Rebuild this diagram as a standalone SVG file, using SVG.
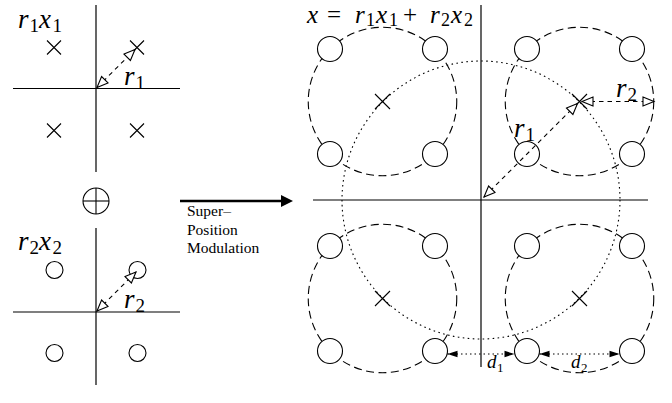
<svg xmlns="http://www.w3.org/2000/svg" width="672" height="403" viewBox="0 0 672 403">
<style>
.ax{stroke:#000;stroke-width:1.2;fill:none}
.cr{stroke:#000;stroke-width:1.1;fill:none}
.sc{stroke:#000;stroke-width:1.1;fill:#fff}
.grp{stroke:#000;stroke-width:1.1;fill:none;stroke-dasharray:8 4.5}
.dot{stroke:#000;stroke-width:1.1;fill:none;stroke-dasharray:1.6 3.4}
.arr{stroke:#000;stroke-width:1.1;fill:none;stroke-dasharray:4.5 4;marker-start:url(#open);marker-end:url(#open)}
.dl{stroke:#000;stroke-width:1.1;fill:none;stroke-dasharray:1.5 3;marker-start:url(#fill);marker-end:url(#fill)}
.m{font-family:"Liberation Serif","Times New Roman","DejaVu Serif",serif;font-style:italic;font-size:27px;fill:#000}
.eq{font-size:25px}
.s{font-style:normal;font-size:19px}
.se{font-style:normal;font-size:18px}
.op{font-style:normal}
.d{font-family:"Liberation Serif","Times New Roman","DejaVu Serif",serif;font-style:italic;font-size:19px;fill:#000}
.ds{font-style:normal;font-size:13px}
.t{font-family:"Liberation Serif","Times New Roman",serif;font-size:15.5px;fill:#000}
</style>
<defs>
<marker id="open" markerUnits="userSpaceOnUse" markerWidth="14" markerHeight="12" refX="11" refY="4.5" orient="auto-start-reverse" overflow="visible">
<path d="M0,0 L11,4.5 L0,9 z" fill="#fff" stroke="#000" stroke-width="1.1"/>
</marker>
<marker id="fill" markerUnits="userSpaceOnUse" markerWidth="12" markerHeight="8" refX="10" refY="3.2" orient="auto-start-reverse" overflow="visible">
<path d="M0,0 L10,3.2 L0,6.4 z" fill="#000"/>
</marker>
</defs>
<rect width="672" height="403" fill="#fff"/>

<g id="plane-r1x1">
<line class="ax" x1="96" y1="5" x2="96" y2="172"/>
<line class="ax" x1="13" y1="88.5" x2="180" y2="88.5"/>
<path class="cr" d="M47,40.5 l14,14 m0,-14 l-14,14 M130,40.5 l14,14 m0,-14 l-14,14 M47,123.5 l14,14 m0,-14 l-14,14 M130,123.5 l14,14 m0,-14 l-14,14"/>
<text class="m"><tspan x="18" y="28">r</tspan><tspan class="s" x="29.5" y="32">1</tspan><tspan x="39" y="28">x</tspan><tspan class="s" x="52.5" y="32">1</tspan></text>
<text class="m"><tspan x="124" y="85">r</tspan><tspan class="s" x="135.5" y="89">1</tspan></text>
</g>

<g id="oplus">
<circle class="cr" cx="96" cy="201" r="13"/>
<line class="cr" x1="83" y1="201" x2="109" y2="201"/>
<line class="cr" x1="96" y1="188" x2="96" y2="214"/>
</g>

<g id="plane-r2x2">
<line class="ax" x1="96" y1="228" x2="96" y2="385"/>
<line class="ax" x1="13" y1="312" x2="180" y2="312"/>
<circle class="sc" cx="54.5" cy="270" r="8.5"/>
<circle class="sc" cx="137.5" cy="270" r="8.5"/>
<circle class="sc" cx="54.5" cy="353" r="8.5"/>
<circle class="sc" cx="137.5" cy="353" r="8.5"/>
<text class="m"><tspan x="18" y="250">r</tspan><tspan class="s" x="29.5" y="254">2</tspan><tspan x="39" y="250">x</tspan><tspan class="s" x="52.5" y="254">2</tspan></text>
<text class="m"><tspan x="124" y="308">r</tspan><tspan class="s" x="135.5" y="312">2</tspan></text>
</g>

<g id="spm-label">
<text class="t" x="187" y="216">Super–</text>
<text class="t" x="187" y="234.5">Position</text>
<text class="t" x="187" y="253">Modulation</text>
</g>

<g id="plane-x">
<line class="ax" x1="481" y1="5" x2="481" y2="367"/>
<line class="ax" x1="313" y1="200" x2="648" y2="200"/>
<circle class="dot" cx="481" cy="200" r="139"/>
<text class="m eq"><tspan x="307" y="22.5">x</tspan><tspan class="op" x="327" y="22.5">=</tspan><tspan x="355" y="22.5">r</tspan><tspan class="se" x="366" y="26">1</tspan><tspan x="376" y="22.5">x</tspan><tspan class="se" x="389" y="26">1</tspan><tspan class="op" x="403" y="22.5">+</tspan><tspan x="430" y="22.5">r</tspan><tspan class="se" x="441" y="26">2</tspan><tspan x="451" y="22.5">x</tspan><tspan class="se" x="464" y="26">2</tspan></text>
</g>

<g id="cluster-q2">
<circle class="grp" cx="382.5" cy="101.5" r="74.25"/>
<circle class="sc" cx="330" cy="49" r="12.5"/>
<circle class="sc" cx="435" cy="49" r="12.5"/>
<circle class="sc" cx="330" cy="154" r="12.5"/>
<circle class="sc" cx="435" cy="154" r="12.5"/>
<path class="cr" d="M375,94 l15,15 m0,-15 l-15,15"/>
</g>

<g id="cluster-q1">
<circle class="grp" cx="579.5" cy="101.5" r="74.25"/>
<circle class="sc" cx="527" cy="49" r="12.5"/>
<circle class="sc" cx="632" cy="49" r="12.5"/>
<circle class="sc" cx="527" cy="154" r="12.5"/>
<circle class="sc" cx="632" cy="154" r="12.5"/>
<path class="cr" d="M572,94 l15,15 m0,-15 l-15,15"/>
</g>

<g id="cluster-q3">
<circle class="grp" cx="382.5" cy="298.5" r="74.25"/>
<circle class="sc" cx="330" cy="246" r="12.5"/>
<circle class="sc" cx="435" cy="246" r="12.5"/>
<circle class="sc" cx="330" cy="351" r="12.5"/>
<circle class="sc" cx="435" cy="351" r="12.5"/>
<path class="cr" d="M375,291 l15,15 m0,-15 l-15,15"/>
</g>

<g id="cluster-q4">
<circle class="grp" cx="579.5" cy="298.5" r="74.25"/>
<circle class="sc" cx="527" cy="246" r="12.5"/>
<circle class="sc" cx="632" cy="246" r="12.5"/>
<circle class="sc" cx="527" cy="351" r="12.5"/>
<circle class="sc" cx="632" cy="351" r="12.5"/>
<path class="cr" d="M572,291 l15,15 m0,-15 l-15,15"/>
</g>

<g id="connectors">
<line class="arr" x1="97" y1="87.5" x2="135" y2="49.5"/>
<line class="arr" x1="97" y1="311" x2="136" y2="272"/>
<line x1="180" y1="201" x2="283" y2="201" stroke="#000" stroke-width="2.6"/>
<polygon points="281,195 293,201 281,207" fill="#000"/>
<line class="arr" x1="484" y1="197" x2="577.5" y2="103.5"/>
<line class="arr" x1="582" y1="101.5" x2="654" y2="101.5"/>
<line class="dl" x1="447.5" y1="354" x2="514.5" y2="354"/>
<line class="dl" x1="539.5" y1="354" x2="619.5" y2="354"/>
</g>

<g id="labels-x">
<text class="m"><tspan x="514" y="137">r</tspan><tspan class="s" x="525.5" y="141">1</tspan></text>
<text class="m"><tspan x="616" y="97">r</tspan><tspan class="s" x="627.5" y="101">2</tspan></text>
<text class="d"><tspan x="487" y="368">d</tspan><tspan class="ds" x="497" y="372">1</tspan></text>
<text class="d"><tspan x="571" y="368">d</tspan><tspan class="ds" x="581" y="372">2</tspan></text>
</g>
</svg>
